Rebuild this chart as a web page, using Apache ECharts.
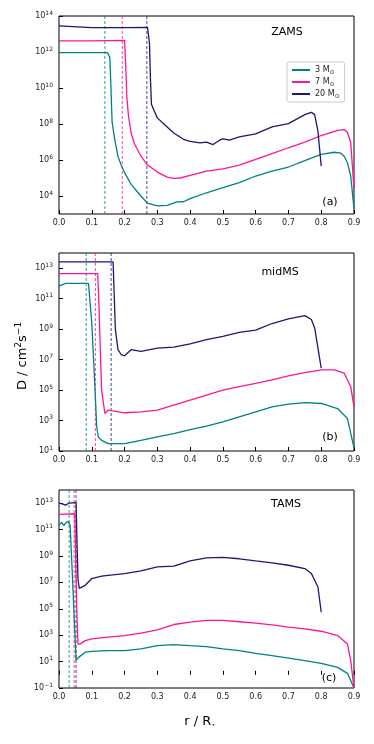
<!DOCTYPE html>
<html>
<head>
<meta charset="utf-8">
<script src="https://cdn.jsdelivr.net/npm/echarts@6/dist/echarts.min.js"></script>
<style>
  html, body { margin: 0; padding: 0; background: #fff; }
  #chart { width: 374px; height: 744px; }
</style>
</head>
<body>
<div id="chart"></div>
<script>
// r / R* against log10(D)
const masses = ["3", "7", "20"];
const colors = ["#008080", "#ff1493", "#191970"];

// ZAMS
const zams3 = [[0,11.97],[0.05,11.97],[0.1,11.97],[0.148,11.96],[0.152,12.06],[0.155,11.7],[0.158,10.3],[0.162,8.1],[0.17,7.15],[0.18,6.2],[0.19,5.7],[0.2,5.3],[0.22,4.65],[0.25,4.0],[0.27,3.6],[0.3,3.45],[0.33,3.48],[0.36,3.67],[0.38,3.68],[0.4,3.85],[0.45,4.18],[0.5,4.46],[0.55,4.74],[0.6,5.11],[0.65,5.38],[0.7,5.61],[0.75,5.97],[0.8,6.31],[0.84,6.43],[0.86,6.38],[0.87,6.21],[0.88,5.85],[0.89,5.11],[0.9,3.3]];
const zams7 = [[0,12.62],[0.1,12.62],[0.2,12.65],[0.203,11.5],[0.207,9.5],[0.212,8.43],[0.22,7.5],[0.23,6.9],[0.25,6.21],[0.27,5.72],[0.3,5.33],[0.33,5.05],[0.35,4.98],[0.37,5.0],[0.4,5.14],[0.45,5.38],[0.5,5.51],[0.55,5.72],[0.6,6.03],[0.65,6.36],[0.7,6.68],[0.75,6.99],[0.8,7.36],[0.85,7.65],[0.87,7.69],[0.88,7.54],[0.89,6.95],[0.9,4.4]];
const zams20 = [[0,13.45],[0.005,13.35],[0.1,13.35],[0.2,13.35],[0.27,13.36],[0.273,13.4],[0.276,12.5],[0.279,10.5],[0.282,9.1],[0.29,8.75],[0.3,8.34],[0.32,8.0],[0.35,7.5],[0.38,7.15],[0.4,7.04],[0.43,6.95],[0.45,6.99],[0.47,6.86],[0.49,7.1],[0.5,7.17],[0.52,7.1],[0.55,7.28],[0.6,7.45],[0.65,7.84],[0.7,8.02],[0.75,8.52],[0.77,8.65],[0.78,8.52],[0.79,7.6],[0.8,5.66]];
const zamsCore = [0.14, 0.193, 0.268];

// midMS
const mid3 = [[0,11.83],[0.02,12.0],[0.05,12.0],[0.09,12.0],[0.093,11.95],[0.1,9.4],[0.11,5.0],[0.115,2.6],[0.12,1.92],[0.13,1.7],[0.15,1.48],[0.2,1.48],[0.25,1.7],[0.3,1.92],[0.35,2.14],[0.4,2.41],[0.45,2.63],[0.5,2.91],[0.55,3.24],[0.6,3.57],[0.65,3.9],[0.7,4.08],[0.75,4.17],[0.8,4.12],[0.85,3.79],[0.88,3.13],[0.9,1.2]];
const mid7 = [[0,12.65],[0.118,12.65],[0.122,10.5],[0.125,8.3],[0.13,5.0],[0.14,3.46],[0.15,3.68],[0.2,3.51],[0.25,3.57],[0.3,3.68],[0.35,4.01],[0.4,4.34],[0.45,4.67],[0.5,5.0],[0.55,5.22],[0.6,5.44],[0.65,5.67],[0.7,5.93],[0.75,6.15],[0.8,6.33],[0.84,6.33],[0.87,6.11],[0.89,5.22],[0.9,3.9]];
const mid20 = [[0,13.42],[0.165,13.42],[0.168,11.5],[0.172,9.0],[0.18,7.65],[0.19,7.32],[0.2,7.25],[0.22,7.65],[0.25,7.54],[0.3,7.76],[0.35,7.82],[0.4,8.04],[0.45,8.31],[0.5,8.53],[0.55,8.79],[0.6,8.93],[0.65,9.37],[0.7,9.67],[0.75,9.89],[0.77,9.63],[0.78,9.08],[0.8,6.44]];
const midCore = [0.083, 0.111, 0.159];

// TAMS
const tams3 = [[0,11.35],[0.008,11.55],[0.015,11.3],[0.02,11.5],[0.028,11.62],[0.034,11.3],[0.04,8],[0.047,4],[0.052,1.1],[0.056,1.2],[0.06,1.32],[0.08,1.71],[0.1,1.78],[0.15,1.83],[0.2,1.83],[0.25,1.96],[0.3,2.21],[0.35,2.29],[0.4,2.21],[0.45,2.14],[0.5,1.96],[0.55,1.83],[0.6,1.63],[0.65,1.45],[0.7,1.27],[0.75,1.07],[0.8,0.87],[0.85,0.56],[0.88,0.11],[0.9,-1]];
const tams7 = [[0,12.16],[0.048,12.2],[0.05,10],[0.054,5],[0.058,2.3],[0.062,2.21],[0.065,2.34],[0.08,2.59],[0.1,2.72],[0.15,2.85],[0.2,2.97],[0.25,3.15],[0.3,3.41],[0.35,3.81],[0.4,3.99],[0.45,4.12],[0.5,4.12],[0.55,4.02],[0.6,3.91],[0.65,3.79],[0.7,3.61],[0.75,3.48],[0.8,3.3],[0.85,2.97],[0.88,2.34],[0.89,1.07],[0.9,-1]];
const tams20 = [[0,13.0],[0.01,12.95],[0.02,12.85],[0.03,13.0],[0.052,13.05],[0.055,10],[0.058,7.2],[0.062,6.55],[0.065,6.6],[0.08,6.78],[0.1,7.29],[0.13,7.47],[0.15,7.54],[0.2,7.67],[0.25,7.87],[0.3,8.18],[0.35,8.23],[0.4,8.63],[0.45,8.86],[0.5,8.89],[0.55,8.79],[0.6,8.63],[0.65,8.48],[0.7,8.3],[0.75,8.05],[0.77,7.67],[0.79,6.65],[0.8,4.75]];
const tamsCore = [0.031, 0.046, 0.052];

// y ranges and tick exponents per panel
const yMin = [3, 1, -1];
const yMax = [14, 14, 14];
const yTicks = [[4, 6, 8, 10, 12, 14], [1, 3, 5, 7, 9, 11, 13], [-1, 1, 3, 5, 7, 9, 11, 13]];
const stages = ["ZAMS", "midMS", "TAMS"];
const tags = ["(a)", "(b)", "(c)"];

const panels = [
  { curves: [zams3, zams7, zams20], core: zamsCore, top: 16 },
  { curves: [mid3, mid7, mid20], core: midCore, top: 253 },
  { curves: [tams3, tams7, tams20], core: tamsCore, top: 490 },
];

const font = "DejaVu Sans";
const chart = echarts.init(document.getElementById("chart"));

const grids = [], xAxes = [], yAxes = [], series = [];
panels.forEach((p, i) => {
  grids.push({
    left: 59, top: p.top, width: 295, height: 198,
    show: true, borderColor: "#000", borderWidth: 1, backgroundColor: "transparent",
  });
  xAxes.push({
    type: "value", gridIndex: i, min: 0, max: 0.9, interval: 0.1,
    axisLine: { show: false },
    axisTick: { inside: true, length: 4, lineStyle: { color: "#000" } },
    splitLine: { show: false },
    axisLabel: {
      color: "#222", fontFamily: font, fontSize: 8, margin: 5,
      formatter: (v) => v.toFixed(1),
    },
  });
  yAxes.push({
    type: "value", gridIndex: i, min: yMin[i], max: yMax[i],
    axisLine: { show: false },
    splitLine: { show: false },
    axisTick: { inside: true, length: 4, lineStyle: { color: "#000" }, customValues: yTicks[i] },
    axisLabel: {
      customValues: yTicks[i], margin: 6, color: "#222", fontFamily: font,
      formatter: (v) => "{b|10}{s|" + String(v).replace("-", "\u2212") + "}",
      rich: {
        b: { fontSize: 8, fontFamily: font, color: "#222" },
        s: { fontSize: 6, fontFamily: font, color: "#222", padding: [0, 0, 6, 0] },
      },
    },
  });
  // core boundaries: dashed verticals
  p.core.forEach((c, k) => {
    series.push({
      type: "line", xAxisIndex: i, yAxisIndex: i,
      data: [[c, yMin[i]], [c, yMax[i]]],
      showSymbol: false, silent: true, animation: false, z: 1,
      lineStyle: { color: colors[k], type: [3, 2], width: 1, opacity: 0.8 },
    });
  });
  p.curves.forEach((data, k) => {
    series.push({
      name: masses[k] + " M",
      type: "line", xAxisIndex: i, yAxisIndex: i,
      data: data, showSymbol: false, animation: false, z: 3,
      lineStyle: { color: colors[k], width: 1.3 },
      itemStyle: { color: colors[k] },
    });
  });
});

const graphic = [];
const titlePos = [[287, 32], [280, 272], [286, 504]];
const tagPos = [[330, 202], [330, 437], [329, 678]];
stages.forEach((s, i) => {
  graphic.push({
    type: "text", x: titlePos[i][0], y: titlePos[i][1],
    style: { text: s, font: "11px " + font, fill: "#000", align: "center", verticalAlign: "middle" },
  });
  graphic.push({
    type: "text", x: tagPos[i][0], y: tagPos[i][1],
    style: { text: tags[i], font: "11px " + font, fill: "#000", align: "center", verticalAlign: "middle" },
  });
});
// axis names
graphic.push({
  type: "text", x: 23, y: 356, rotation: Math.PI / 2,
  style: {
    text: "D / cm{s|2}s{s|\u22121}", align: "center", verticalAlign: "middle",
    font: "13px " + font, fill: "#000",
    rich: {
      s: { fontSize: 9, fontFamily: font, fill: "#000", padding: [0, 0, 8, 0] },
    },
  },
});
graphic.push({
  type: "text", x: 200, y: 722,
  style: {
    text: "r / R{s|\u22c6}", align: "center", verticalAlign: "middle",
    font: "13px " + font, fill: "#000",
    rich: { s: { fontSize: 7, fontFamily: font, fill: "#000", padding: [6, 0, 0, 0] } },
  },
});

chart.setOption({
  animation: false,
  grid: grids,
  xAxis: xAxes,
  yAxis: yAxes,
  series: series,
  legend: {
    data: masses.map((m) => m + " M"),
    left: 287, top: 62, orient: "vertical",
    selectedMode: false,
    padding: [4, 5, 3, 5], itemGap: 3,
    itemWidth: 18, itemHeight: 2, icon: "rect",
    borderColor: "#ccc", borderWidth: 1, borderRadius: 2,
    backgroundColor: "#fff",
    textStyle: {
      fontFamily: font, fontSize: 8, color: "#222",
      rich: { s: { fontSize: 6, fontFamily: font, color: "#222", padding: [4, 0, 0, 0] } },
    },
    formatter: (name) => name + "{s|\u2299}",
  },
  graphic: graphic,
});
</script>
</body>
</html>
